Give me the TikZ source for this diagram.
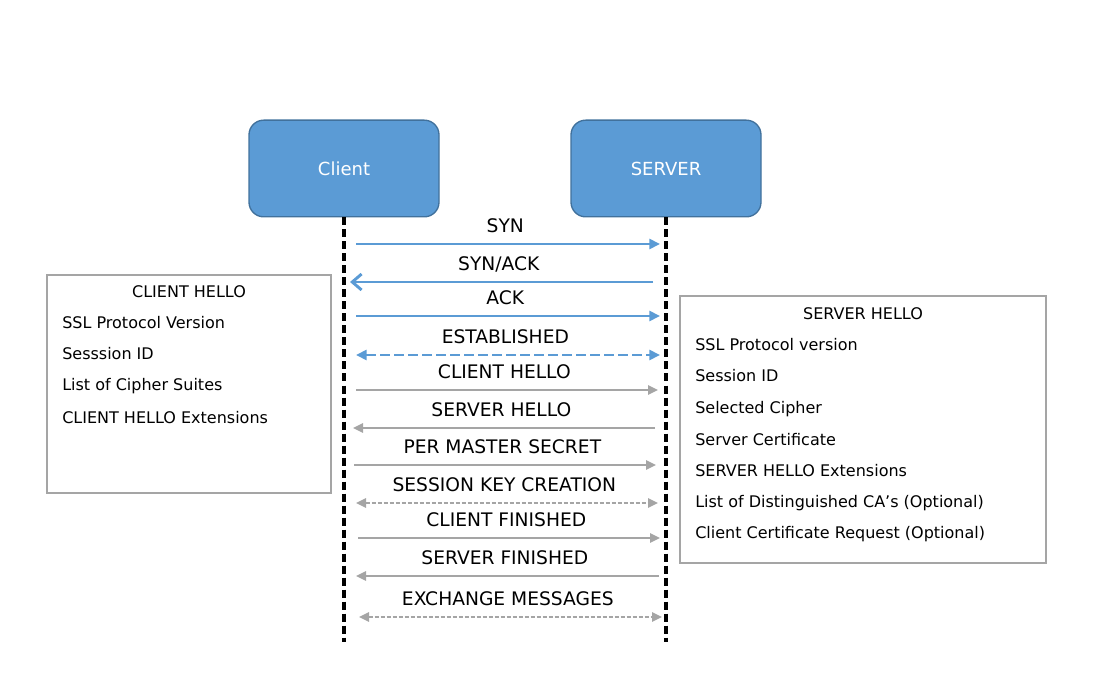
\documentclass[tikz,border=0pt]{standalone}
\usepackage{fontspec}
\setmainfont{DejaVu Sans}
\usepackage{xcolor}
\usetikzlibrary{arrows.meta,positioning}
\definecolor{boxblue}{HTML}{5B9BD5}
\definecolor{boxedge}{HTML}{41719C}
\definecolor{msggray}{HTML}{A5A5A5}

\begin{document}
\begin{tikzpicture}[x=0.75pt,y=-0.75pt,
    every node/.style={font=\fontsize{12}{14.4}\selectfont},
    party/.style={draw=boxedge,fill=boxblue,rounded corners=11pt,line width=1pt,minimum width=142.5pt,minimum height=72.5pt,text=white,font=\fontsize{13.5}{16}\selectfont},
    lifeline/.style={line width=2.5pt,dash pattern=on 6pt off 3pt},
    bluemsg/.style={draw=boxblue,line width=2.2pt,-{Triangle[length=8pt,width=7.5pt]}},
    blueback/.style={draw=boxblue,line width=2.2pt,-{Straight Barb[length=7pt,width=12pt]}},
    bluedash/.style={draw=boxblue,line width=2.2pt,dash pattern=on 7.5pt off 3pt,{Triangle[length=8pt,width=7.5pt]}-{Triangle[length=8pt,width=7.5pt]}},
    graymsg/.style={draw=msggray,line width=1.5pt,-{Triangle[length=7.5pt,width=7pt]}},
    graydash/.style={draw=msggray,line width=1.5pt,dash pattern=on 3pt off 1.5pt,{Triangle[length=7.5pt,width=7pt]}-{Triangle[length=7.5pt,width=7pt]}},
    msglabel/.style={anchor=base,yshift=8.5pt,xshift=-2pt,inner sep=0pt,font=\fontsize{14}{16.8}\selectfont},
    infobox/.style={draw=msggray,line width=1.5pt,inner sep=0pt},
    infotitle/.style={anchor=base,inner sep=0pt},
    infoitem/.style={anchor=base west,inner sep=0pt}]
    \useasboundingbox (0,0) rectangle (1105,680);

    % parties and lifelines
    \node[party] (client) at (344,168.5) {Client};
    \node[party] (server) at (666,168.5) {SERVER};
    \coordinate (clientend) at (344,642);
    \coordinate (serverend) at (666,642);
    \draw[lifeline] (client.south) -- (clientend);
    \draw[lifeline] (server.south) -- (serverend);

    % tcp handshake
    \coordinate (synA) at (356,244);    \coordinate (synB) at (660,244);
    \coordinate (synackA) at (653,282); \coordinate (synackB) at (350,282);
    \coordinate (ackA) at (356,316);    \coordinate (ackB) at (660,316);
    \coordinate (estA) at (356,355);    \coordinate (estB) at (660,355);
    \draw[bluemsg] (synA) -- (synB) node[midway,msglabel] (syn) {SYN};
    \draw[blueback] (synackA) -- (synackB) node[midway,msglabel] (synack) {SYN/ACK};
    \draw[bluemsg] (ackA) -- (ackB) node[midway,msglabel] (ack) {ACK};
    \draw[bluedash] (estA) -- (estB) node[midway,msglabel] (est) {ESTABLISHED};

    % ssl handshake
    \coordinate (chA) at (356,390);     \coordinate (chB) at (658,390);
    \coordinate (shA) at (655,428);     \coordinate (shB) at (353,428);
    \coordinate (pmsA) at (354,465);    \coordinate (pmsB) at (656,465);
    \coordinate (skcA) at (356,503);    \coordinate (skcB) at (658,503);
    \coordinate (cfA) at (358,538);     \coordinate (cfB) at (660,538);
    \coordinate (sfA) at (659,576);     \coordinate (sfB) at (356,576);
    \coordinate (exA) at (359,617);     \coordinate (exB) at (662,617);
    \draw[graymsg] (chA) -- (chB) node[midway,msglabel] (ch) {CLIENT HELLO};
    \draw[graymsg] (shA) -- (shB) node[midway,msglabel] (sh) {SERVER HELLO};
    \draw[graymsg] (pmsA) -- (pmsB) node[midway,msglabel] (pms) {PER MASTER SECRET};
    \draw[graydash] (skcA) -- (skcB) node[midway,msglabel] (skc) {SESSION KEY CREATION};
    \draw[graymsg] (cfA) -- (cfB) node[midway,msglabel] (cf) {CLIENT FINISHED};
    \draw[graymsg] (sfA) -- (sfB) node[midway,msglabel] (sf) {SERVER FINISHED};
    \draw[graydash] (exA) -- (exB) node[midway,msglabel] (ex) {EXCHANGE MESSAGES};

    % client hello contents
    \node[infobox,minimum width=213pt,minimum height=163.5pt] (chbox) at (189,384) {};
    \node[infotitle] (chtitle) at (189,298) {CLIENT HELLO};
    \node[infoitem] (ch1) at (62,329) {SSL Protocol Version};
    \node[infoitem] (ch2) at (62,360) {Sesssion ID};
    \node[infoitem] (ch3) at (62,391) {List of Cipher Suites};
    \node[infoitem] (ch4) at (62,423) {CLIENT HELLO Extensions};

    % server hello contents
    \node[infobox,minimum width=274.5pt,minimum height=200.25pt] (shbox) at (863,429.5) {};
    \node[infotitle] (shtitle) at (863,320) {SERVER HELLO};
    \node[infoitem] (sh1) at (695,351) {SSL Protocol version};
    \node[infoitem] (sh2) at (695,382) {Session ID};
    \node[infoitem] (sh3) at (695,413) {Selected Cipher};
    \node[infoitem] (sh4) at (695,445) {Server Certificate};
    \node[infoitem] (sh5) at (695,476) {SERVER HELLO Extensions};
    \node[infoitem] (sh6) at (695,507) {List of Distinguished CA’s (Optional)};
    \node[infoitem] (sh7) at (695,538) {Client Certificate Request (Optional)};
\end{tikzpicture}
\end{document}
